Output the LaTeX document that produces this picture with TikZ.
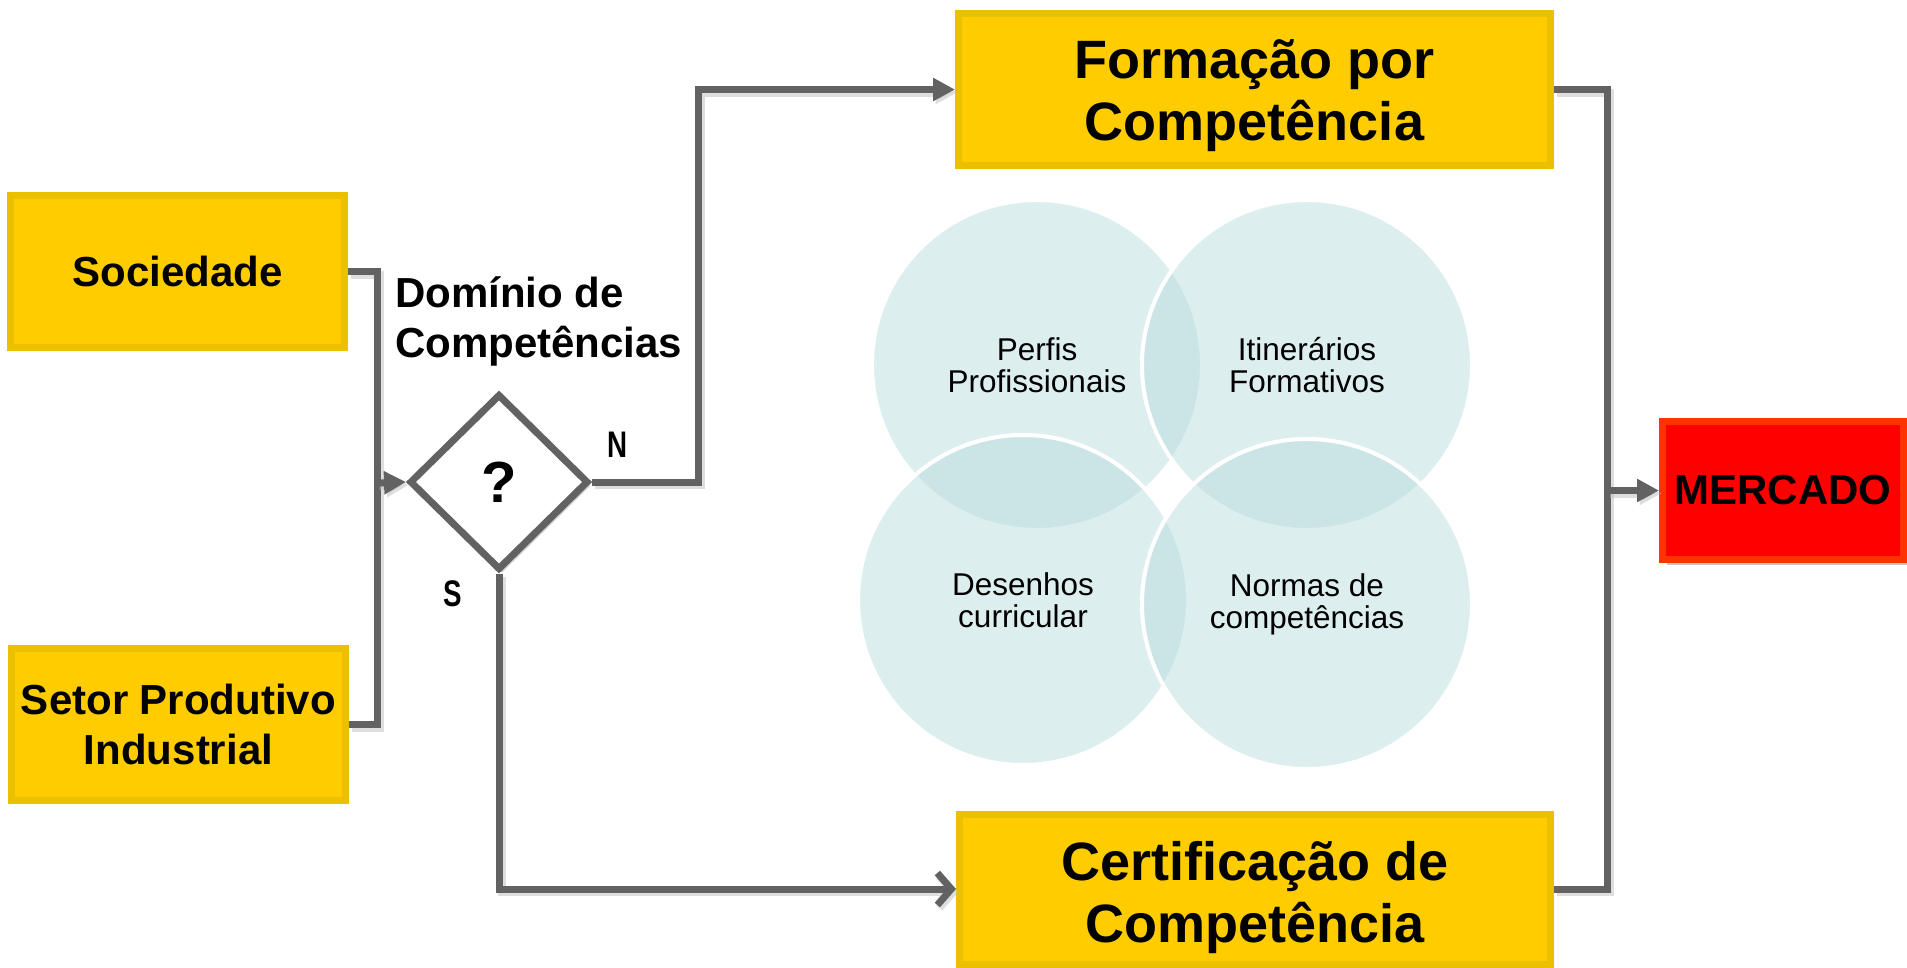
\documentclass[tikz,border=0pt]{standalone}
\usepackage{fontspec}
\setmainfont{Liberation Sans}
\usetikzlibrary{arrows.meta,shapes.geometric,shadows}
\definecolor{ybox}{HTML}{FFCC00}
\definecolor{yedge}{HTML}{EBC000}
\definecolor{rbox}{HTML}{FF0000}
\definecolor{redge}{HTML}{FF3300}
\definecolor{lgray}{HTML}{626262}
\definecolor{circ}{RGB}{183,219,223}
\begin{document}
\begin{tikzpicture}[x=1pt,y=-1pt,
  ybx/.style={draw=yedge, fill=ybox, line width=7pt, inner sep=0pt, align=center,
    font=\bfseries\fontsize{42}{50}\selectfont},
  bigf/.style={font=\bfseries\fontsize{54}{62}\selectfont},
  rbx/.style={draw=redge, fill=rbox, line width=7pt, inner sep=0pt,
    font=\bfseries\fontsize{42}{50}\selectfont,
    drop shadow={shadow xshift=4pt, shadow yshift=-5pt, opacity=0.3, fill=black!70}},
  crc/.style={circle, minimum size=330pt, inner sep=0pt, fill=circ, fill opacity=0.47,
    text opacity=1, draw=white, draw opacity=1, line width=4pt, align=center,
    font=\fontsize{31.5}{32}\selectfont},
  conn/.style={draw=lgray, line width=7pt,
    preaction={draw=black!25, opacity=0.5, line width=8pt, transform canvas={shift={(2.5pt,-3pt)}}}},
  tri/.style={-{Triangle[length=22pt,width=22pt]}},
  lab/.style={font=\bfseries\fontsize{37}{40}\selectfont, inner sep=0pt}
]
\useasboundingbox[fill=white] (0,0) rectangle (1907,967);

% circles
\node[crc] (c1) at (1037,365) {Perfis\\Profissionais};
\node[crc] (c2) at (1307,365) {Itinerários\\Formativos};
\node[crc] (c3) at (1023,600) {Desenhos\\curricular};
\node[crc] (c4) at (1307,604) {Normas de\\competências};

% boxes
\node[ybx, minimum width=334pt, minimum height=152pt] (soc) at (177.5,271.5) {Sociedade};
\node[ybx, minimum width=334pt, minimum height=152pt] (set) at (178.5,724.5) {Setor Produtivo\\Industrial};
\node[ybx, bigf, minimum width=592pt, minimum height=152pt] (form) at (1254.5,89.5)
  {\raisebox{-13.5pt}[0pt][0pt]{\begin{tabular}{@{}c@{}}Formação por\\Competência\end{tabular}}};
\node[ybx, bigf, minimum width=591pt, minimum height=150pt] (cert) at (1255,889)
  {\raisebox{-16pt}[0pt][0pt]{\begin{tabular}{@{}c@{}}Certificação de\\Competência\end{tabular}}};
\node[rbx, minimum width=241pt, minimum height=138pt] (merc) at (1783,490.5) {MERCADO};

% decision
\node[diamond, draw=lgray, fill=white, line width=7pt, minimum width=179pt, minimum height=176pt,
  inner sep=0pt, font=\bfseries\fontsize{58}{60}\selectfont,
  drop shadow={shadow xshift=3pt, shadow yshift=-4pt, opacity=0.3, fill=black!60}] (dia) at (499,482) {?};

\node[anchor=base west, inner sep=0pt, font=\bfseries\fontsize{42}{50}\selectfont] (dom) at (395,307)
  {\begin{tabular}[t]{@{}l@{}}Domínio de\\Competências\end{tabular}};
\node[lab] (nl) at (618,445) {\scalebox{0.75}[1]{N}};
\node[lab] (sl) at (453,594) {\scalebox{0.75}[1]{S}};

% connectors
\coordinate (jl) at (377,483);
\coordinate (jn) at (698,89.5);
\coordinate (jr) at (1607,490.5);
\draw[conn] (soc.east) -| (jl);
\draw[conn] (set.east) -| (jl);
\draw[conn, tri] (jl) -- (dia.west);
\draw[conn, tri] (dia.east) -| (jn) -- (form.west);
\draw[conn, -{Straight Barb[length=14pt,width=32pt]}] (dia.south) |- (cert.west);
\draw[conn] (form.east) -| (jr);
\draw[conn] (cert.east) -| (jr);
\draw[conn, tri] (jr) -- (merc.west);
\end{tikzpicture}
\end{document}
